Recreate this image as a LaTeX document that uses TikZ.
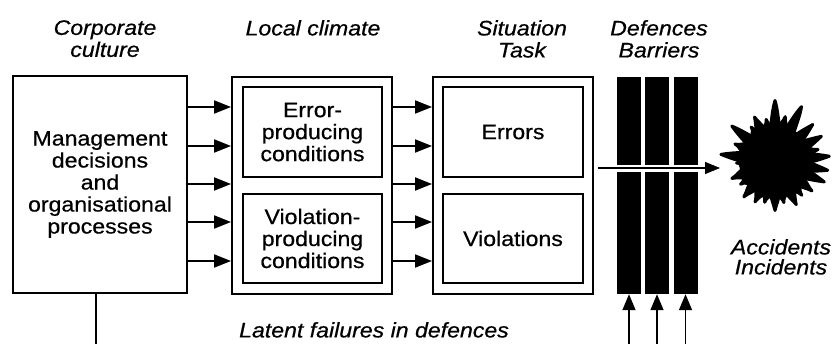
\documentclass[tikz,border=0pt]{standalone}
\usepackage{fontspec}
\setmainfont{Liberation Sans}[FakeStretch=1.1,FakeBold=0.6]
\usetikzlibrary{arrows.meta,calc}
\begin{document}
\begin{tikzpicture}[x=1pt,y=-1pt,
  every node/.style={inner sep=0pt, font=\fontsize{21}{22}\selectfont},
  title/.style={align=center, anchor=north, font=\fontsize{21}{22}\selectfont\itshape},
  outerbox/.style={draw, line width=1.9pt},
  innerbox/.style={draw, line width=1.4pt, align=center},
  bar/.style={fill=black, minimum width=24pt},
  feed/.style={line width=1.9pt, -{Triangle[length=17pt,width=13pt]}},
  breach/.style={line width=1.2pt, -{Triangle[length=15pt,width=12pt]}},
  latent/.style={line width=1.5pt, -{Triangle[length=16pt,width=13pt]}},
  spike/.style={fill=black, draw=black, line width=3pt, line join=round}
]
\useasboundingbox (0,0) rectangle (832,344);

% column headings
\node[title] (hcorp) at (105,20) {Corporate\\culture};
\node[title] (hlocal) at (313,20) {Local climate};
\node[title] (hsit) at (522,20) {Situation\\Task};
\node[title] (hdef) at (659,20) {Defences\\Barriers};
\node[title, font=\fontsize{21}{20}\selectfont\itshape] (hacc) at (781,239) {Accidents\\Incidents};
\node[title] (hlat) at (374,322) {Latent failures in defences};

% organisational level
\node[outerbox, align=center, minimum width=174pt, minimum height=217pt] (mgmt) at (100,184.5)
  {Management\\decisions\\and\\organisational\\processes};

% workplace level
\node[outerbox, minimum width=160pt, minimum height=217pt] (local) at (312,185.5) {};
\node[innerbox, minimum width=139pt, minimum height=90pt] (epc) at (312.5,132) {Error-\\producing\\conditions};
\node[innerbox, minimum width=139pt, minimum height=89pt] (vpc) at (312.5,238.5) {Violation-\\producing\\conditions};

% person level
\node[outerbox, minimum width=160pt, minimum height=217pt] (sit) at (513,185.5) {};
\node[innerbox, minimum width=140pt, minimum height=90pt] (err) at (513,132) {Errors};
\node[innerbox, minimum width=140pt, minimum height=89pt] (viol) at (513,238.5) {Violations};

% defences, split by the gap the trajectory passes through
\node[bar, minimum height=88pt] (b1up) at (629,121) {};
\node[bar, minimum height=88pt] (b2up) at (657,121) {};
\node[bar, minimum height=88pt] (b3up) at (685.5,121) {};
\node[bar, minimum height=122pt] (b1lo) at (629,233) {};
\node[bar, minimum height=122pt] (b2lo) at (657,233) {};
\node[bar, minimum height=122pt] (b3lo) at (685.5,233) {};

% influence arrows
\foreach \y in {107,146,184,222,261} {
  \draw[feed] (mgmt.east |- 0,\y) -- (local.west |- 0,\y);
  \draw[feed] (local.east |- 0,\y) -- (sit.west |- 0,\y);
}

% accident trajectory through the defences
\coordinate (burst) at (775,161);
\coordinate (hit) at (720,168);
\draw[breach] ($(sit.east |- hit)+(4,0)$) -- (hit);

% the accident: a spiky blot
\fill (burst) circle (36pt);
\foreach \a/\l in {90/62, 77/47, 64/62, 44/54, 28/54, 15/46, 5/56, -10/55, -23/55,
                   -39/49, -52/45, -64/50, -78/44, -90/51, -104/44, -116/47, -131/49,
                   -146/43, -158/48, -177/40, 173/56, 157/45, 141/57, 125/43, 115/50, 102/44} {
  \filldraw[spike] ($(burst)+(\a-10:30pt)$) .. controls ($(burst)+(\a-5:40pt)$) and ($(burst)+(\a-3:\l pt-10pt)$)
    .. ($(burst)+(\a:\l pt-1.5pt)$) .. controls ($(burst)+(\a+3:\l pt-10pt)$) and ($(burst)+(\a+5:40pt)$)
    .. ($(burst)+(\a+10:30pt)$) -- cycle;
}

% latent failure pathways
\coordinate (lat0) at (96,344);
\draw[line width=1.4pt] (mgmt.south -| lat0) -- (lat0);
\coordinate (lat1) at (629,344);
\coordinate (lat2) at (657,344);
\coordinate (lat3) at (685.5,344);
\draw[latent] (lat1) -- (b1lo.south);
\draw[latent] (lat2) -- (b2lo.south);
\draw[latent] (lat3) -- (b3lo.south);
\end{tikzpicture}
\end{document}
